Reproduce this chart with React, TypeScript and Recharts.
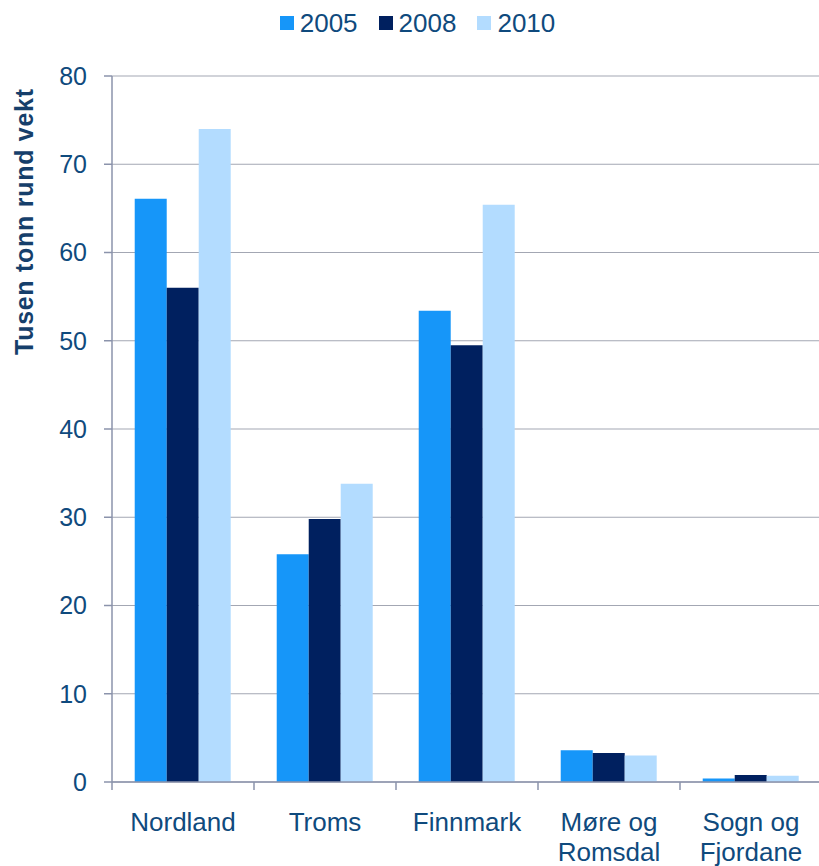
import { BarChart, Bar, XAxis, YAxis, CartesianGrid, Legend } from 'recharts';

const regions = ['Nordland', 'Troms', 'Finnmark', 'Møre og\nRomsdal', 'Sogn og\nFjordane'];
const years = ['2005', '2008', '2010'];
const v2005 = [66.1, 25.8, 53.4, 3.6, 0.4];
const v2008 = [56.0, 29.8, 49.5, 3.3, 0.8];
const v2010 = [74.0, 33.8, 65.4, 3.0, 0.7];
const yTicks = [0, 10, 20, 30, 40, 50, 60, 70, 80];

const colors = ['#1696f9', '#00205f', '#b3dcff'];
const textColor = '#0f4a7d';
const axisColor = '#8b93ab';
const font = '"Liberation Sans", Arial, sans-serif';

const W = 819;
const CW = 822;
const H = 866;
const LEFT = 112;
const BAND = (CW - LEFT) / regions.length;

const data = regions.map((name, i) => ({
  name,
  y2005: v2005[i],
  y2008: v2008[i],
  y2010: v2010[i],
}));

function CategoryTick(props: any) {
  const { x, y, payload, index } = props;
  const lines = String(payload.value).split('\n');
  const axisY = y - 31;
  return (
    <g>
      <line x1={x - BAND / 2} y1={axisY} x2={x - BAND / 2} y2={axisY + 8} stroke={axisColor} strokeWidth={1.5} />
      {index === regions.length - 1 && (
        <line x1={x + BAND / 2} y1={axisY} x2={x + BAND / 2} y2={axisY + 8} stroke={axisColor} strokeWidth={1.5} />
      )}
      <text x={x} y={y} textAnchor="middle" fill={textColor} fontSize={26} fontFamily={font}>
        {lines.map((l, k) => (
          <tspan key={k} x={x} dy={k === 0 ? '0.71em' : 30}>{l}</tspan>
        ))}
      </text>
    </g>
  );
}

function YLabel() {
  return (
    <text
      x={33}
      y={222}
      transform="rotate(-90 33 222)"
      textAnchor="middle"
      fill="#163f6b"
      fontSize={25}
      fontWeight="bold"
      fontFamily={font}
      textLength={266}
    >
      Tusen tonn rund vekt
    </text>
  );
}

function LegendBox() {
  return (
    <div style={{ display: 'flex', justifyContent: 'center', alignItems: 'center', height: 40, fontFamily: font }}>
      {years.map((y, i) => (
        <div key={y} style={{ display: 'flex', alignItems: 'center', marginRight: i < years.length - 1 ? 21 : 0 }}>
          <span style={{ width: 14, height: 14, background: colors[i], marginRight: 6, display: 'inline-block' }} />
          <span style={{ fontSize: 26, color: textColor }}>{y}</span>
        </div>
      ))}
    </div>
  );
}

export default function App() {
  return (
    <div style={{ position: 'absolute', left: 0, top: 0, width: W, height: H, overflow: 'hidden', background: '#fff' }}>
      <BarChart
        width={CW}
        height={H}
        data={data}
        margin={{ top: 36, right: 0, left: 0, bottom: 0 }}
        barCategoryGap="16%"
        barGap={0}
      >
        <CartesianGrid vertical={false} stroke="#a3a7b3" strokeWidth={1.2} />
        <XAxis
          dataKey="name"
          height={84}
          interval={0}
          tickLine={false}
          tickSize={8}
          tickMargin={23}
          axisLine={{ stroke: axisColor, strokeWidth: 1.5 }}
          tick={<CategoryTick />}
        />
        <YAxis
          width={LEFT}
          domain={[0, 80]}
          ticks={yTicks}
          interval={0}
          tickSize={8}
          tickMargin={17}
          axisLine={{ stroke: axisColor, strokeWidth: 1.5 }}
          tickLine={{ stroke: axisColor, strokeWidth: 1.5 }}
          tick={{ fill: textColor, fontSize: 25, fontFamily: font }}
          label={<YLabel />}
        />
        <Legend
          verticalAlign="top"
          content={<LegendBox />}
          wrapperStyle={{ top: 3, left: 0, width: 835 }}
        />
        <Bar dataKey="y2005" name="2005" fill={colors[0]} isAnimationActive={false} />
        <Bar dataKey="y2008" name="2008" fill={colors[1]} isAnimationActive={false} />
        <Bar dataKey="y2010" name="2010" fill={colors[2]} isAnimationActive={false} />
      </BarChart>
    </div>
  );
}
